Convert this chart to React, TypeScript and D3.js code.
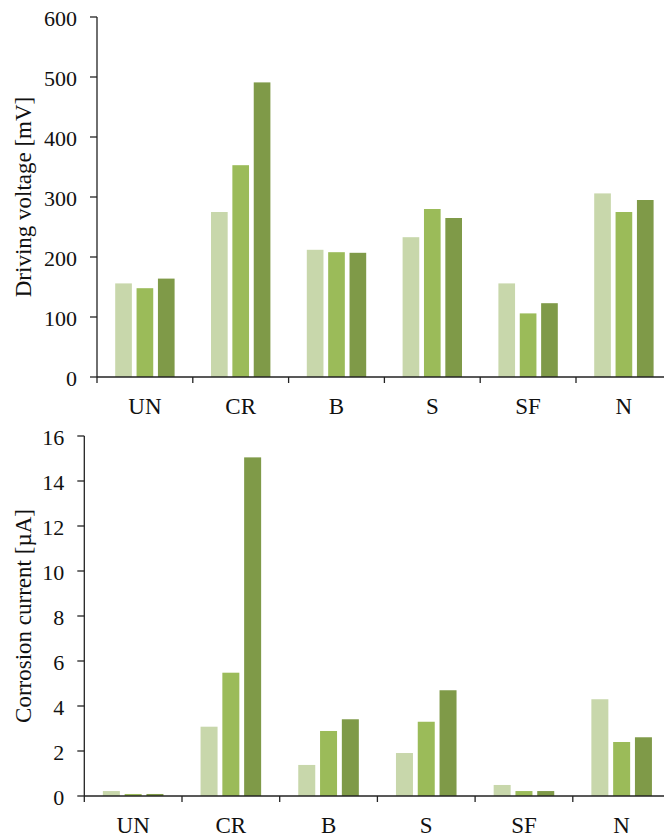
import React from 'react';
import * as d3 from 'd3';

// categories and series
const categories = ['UN', 'CR', 'B', 'S', 'SF', 'N'];
const seriesNames = ['s1', 's2', 's3'];
const colors = ['#c8d7ab', '#9bbb59', '#7f9a48'];

// driving voltage [mV], one array per series
const voltage1 = [156, 275, 212, 233, 156, 306];
const voltage2 = [148, 353, 208, 280, 106, 275];
const voltage3 = [164, 491, 207, 265, 123, 295];
const voltageTicks = [0, 100, 200, 300, 400, 500, 600];

// corrosion current [µA]
const current1 = [0.22, 3.08, 1.38, 1.91, 0.49, 4.3];
const current2 = [0.09, 5.48, 2.89, 3.3, 0.22, 2.4];
const current3 = [0.09, 15.05, 3.41, 4.7, 0.22, 2.61];
const currentTicks = [0, 2, 4, 6, 8, 10, 12, 14, 16];

const W = 664;
const H = 840;
const font = 'Liberation Serif';
const axisColor = '#222';

type PanelProps = {
  series: number[][];
  ticks: number[];
  left: number;
  top: number;
  bottom: number;
  band: number;
  title: string;
};

function Panel({ series, ticks, left, top, bottom, band, title }: PanelProps) {
  const x = d3.scaleBand<string>()
    .domain(categories)
    .range([left, left + band * categories.length])
    .padding(0);
  const inner = d3.scaleBand<string>()
    .domain(seriesNames)
    .range([band * 0.19, band * 0.81])
    .paddingInner(0.22)
    .paddingOuter(0);
  const y = d3.scaleLinear()
    .domain([ticks[0], ticks[ticks.length - 1]])
    .range([bottom, top]);

  const boundaries = categories.map(c => x(c) as number);

  return (
    <g fontFamily={font} fill="#111">
      {categories.map((c, i) => (
        <g key={c} transform={`translate(${x(c)},0)`}>
          {seriesNames.map((s, j) => (
            <rect
              key={s}
              x={inner(s)}
              width={inner.bandwidth()}
              y={y(series[j][i])}
              height={y(0) - y(series[j][i])}
              fill={colors[j]}
            />
          ))}
        </g>
      ))}
      {/* y axis */}
      <line x1={left} x2={left} y1={top} y2={bottom} stroke={axisColor} strokeWidth={1.3} />
      {ticks.map(t => (
        <g key={t}>
          <line x1={left - 7} x2={left} y1={y(t)} y2={y(t)} stroke={axisColor} strokeWidth={1.3} />
          <text
            x={left - 20}
            y={y(t)}
            dy="0.4em"
            textAnchor="end"
            fontSize={22}
          >
            {t}
          </text>
        </g>
      ))}
      {/* x axis */}
      <line x1={left} x2={W} y1={bottom} y2={bottom} stroke={axisColor} strokeWidth={1.3} />
      {boundaries.map(b => (
        <line key={b} x1={b} x2={b} y1={bottom} y2={bottom + 6} stroke={axisColor} strokeWidth={1.3} />
      ))}
      {categories.map(c => (
        <text
          key={c}
          x={(x(c) as number) + band / 2}
          y={bottom + 37}
          textAnchor="middle"
          fontSize={23}
        >
          {c}
        </text>
      ))}
      <text
        transform={`translate(31,${(top + bottom) / 2}) rotate(-90)`}
        textAnchor="middle"
        fontSize={23}
      >
        {title}
      </text>
    </g>
  );
}

export default function App() {
  return (
    <div style={{ position: 'fixed', left: 0, top: 0 }}>
      <svg width={W} height={H} style={{ display: 'block', background: '#fff' }}>
        <Panel
          series={[voltage1, voltage2, voltage3]}
          ticks={voltageTicks}
          left={97}
          top={17}
          bottom={377}
          band={95.8}
          title="Driving voltage [mV]"
        />
        <Panel
          series={[current1, current2, current3]}
          ticks={currentTicks}
          left={84.3}
          top={436}
          bottom={796}
          band={97.7}
          title="Corrosion current [µA]"
        />
      </svg>
    </div>
  );
}
